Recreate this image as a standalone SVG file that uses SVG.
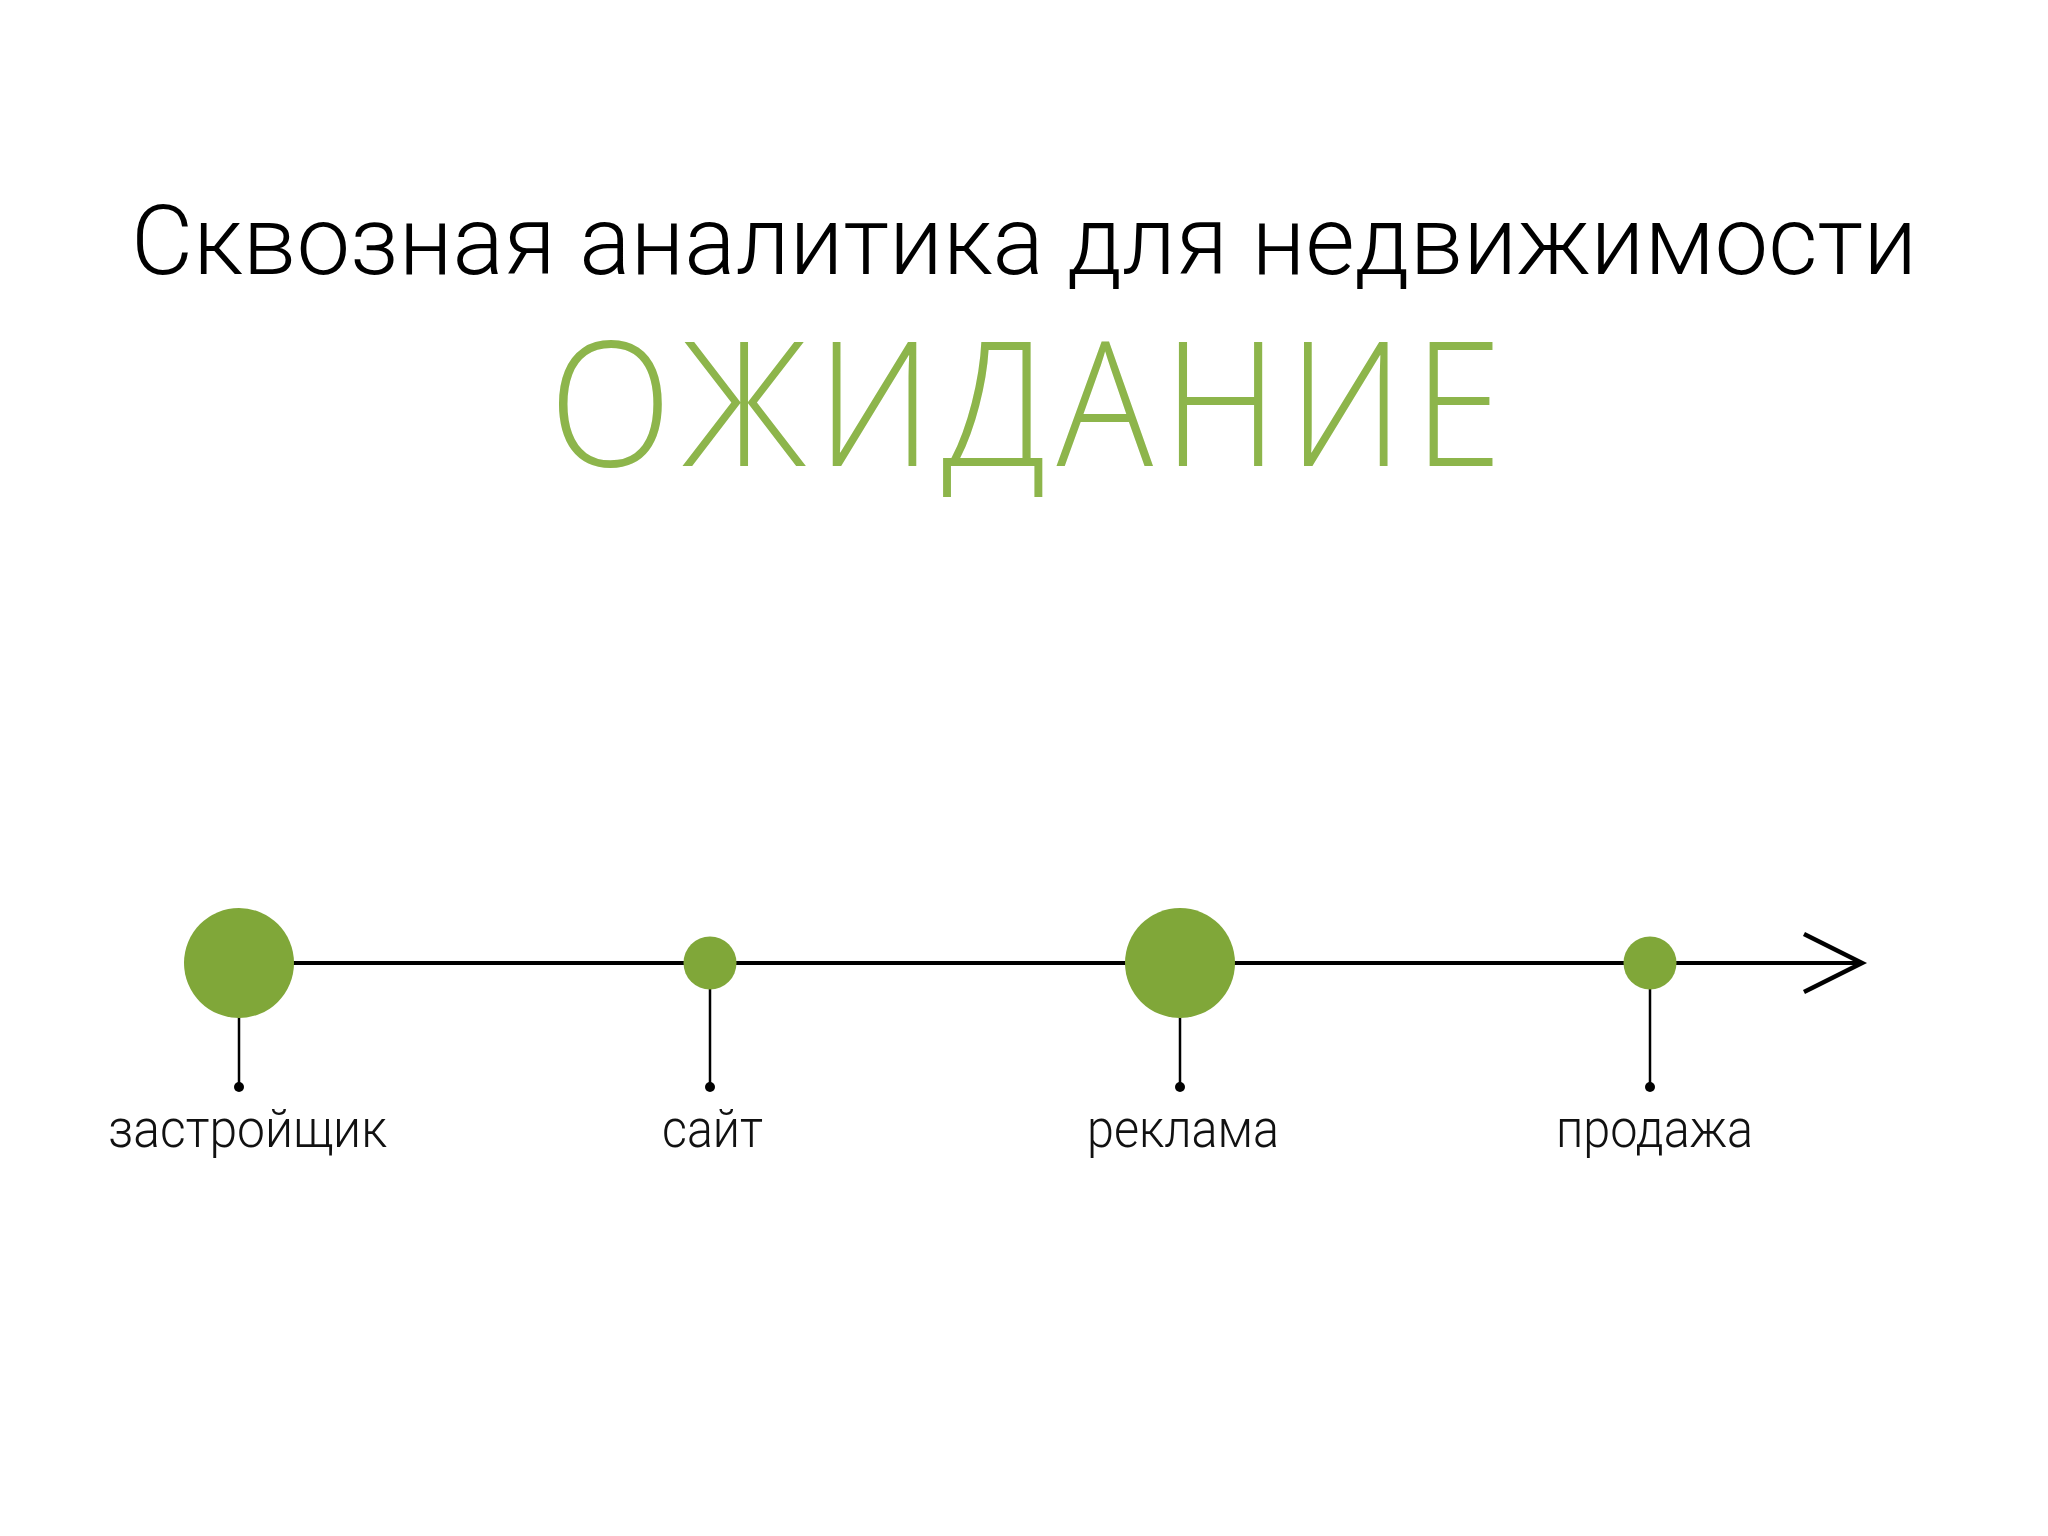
<svg xmlns="http://www.w3.org/2000/svg" width="2048" height="1536" viewBox="0 0 2048 1536">
<style>
.title{font-family:Roboto,"Liberation Sans",sans-serif;font-weight:300;font-size:97px;fill:#000}
.big{font-family:"Open Sans","Noto Sans",sans-serif;font-weight:300;font-size:173px;fill:#8db54b}
.lbl{font-family:Roboto,"Liberation Sans",sans-serif;font-weight:300;font-size:54px;fill:#111}
.dotc{fill:#80a739}
.stem{stroke:#000;stroke-width:2.5}
.end{fill:#000}
</style>
<rect width="2048" height="1536" fill="#fff"/>
<text class="title" x="131" y="274" textLength="1786" lengthAdjust="spacingAndGlyphs">Сквозная аналитика для недвижимости</text>
<text class="big" transform="translate(549,466) scale(0.93,1)" x="0" y="0" textLength="1025" lengthAdjust="spacing">ОЖИДАНИЕ</text>
<g id="connectors">
<line x1="239" y1="963" x2="1861" y2="963" stroke="#000" stroke-width="4"/>
<polyline points="1804,934 1862,963 1804,992" fill="none" stroke="#000" stroke-width="4.5"/>
</g>
<g id="n1">
<line class="stem" x1="239" y1="963" x2="239" y2="1087"/>
<circle class="end" cx="239" cy="1087" r="5"/>
<circle class="dotc" cx="239" cy="963" r="55"/>
<text class="lbl" x="108" y="1147" textLength="279" lengthAdjust="spacingAndGlyphs">застройщик</text>
</g>
<g id="n2">
<line class="stem" x1="710" y1="963" x2="710" y2="1087"/>
<circle class="end" cx="710" cy="1087" r="5"/>
<circle class="dotc" cx="710" cy="963" r="26.5"/>
<text class="lbl" x="662" y="1147" textLength="101" lengthAdjust="spacingAndGlyphs">сайт</text>
</g>
<g id="n3">
<line class="stem" x1="1180" y1="963" x2="1180" y2="1087"/>
<circle class="end" cx="1180" cy="1087" r="5"/>
<circle class="dotc" cx="1180" cy="963" r="55"/>
<text class="lbl" x="1087" y="1147" textLength="192" lengthAdjust="spacingAndGlyphs">реклама</text>
</g>
<g id="n4">
<line class="stem" x1="1650" y1="963" x2="1650" y2="1087"/>
<circle class="end" cx="1650" cy="1087" r="5"/>
<circle class="dotc" cx="1650" cy="963" r="26.5"/>
<text class="lbl" x="1556" y="1147" textLength="197" lengthAdjust="spacingAndGlyphs">продажа</text>
</g>
</svg>
